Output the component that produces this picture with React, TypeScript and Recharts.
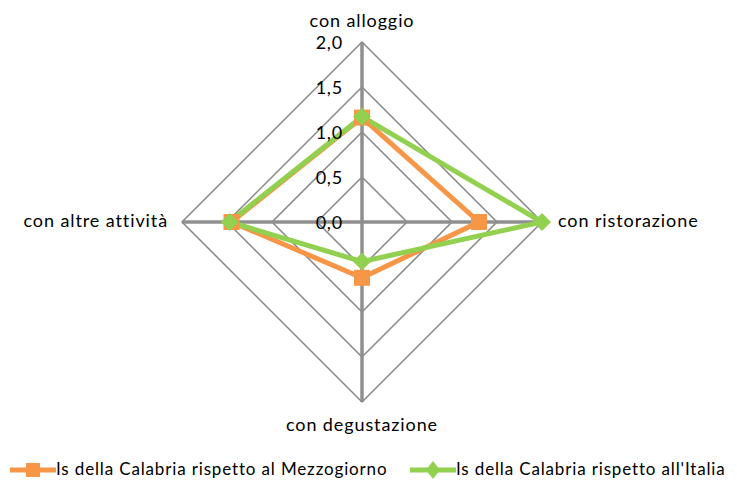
import { RadarChart, Radar, PolarGrid, PolarAngleAxis, PolarRadiusAxis, Legend } from 'recharts'

const categories = ['con alloggio', 'con ristorazione', 'con degustazione', 'con altre attività']
const mezzogiorno = [1.16, 1.3, 0.62, 1.45]
const italia = [1.17, 2.0, 0.44, 1.47]
const radiusTicks = [0, 0.5, 1, 1.5, 2]

const seriesNames = ['Is della Calabria rispetto al Mezzogiorno', "Is della Calabria rispetto all'Italia"]
const ORANGE = '#F79646'
const GREEN = '#92D050'

const data = categories.map((c, i) => ({ cat: c, mez: mezzogiorno[i], ita: italia[i] }))

const font = 'Lato, "Open Sans", sans-serif'

function SquareDot(props: any) {
  const { cx, cy } = props
  return <rect x={cx - 8} y={cy - 8} width={16} height={16} fill={ORANGE} />
}

function DiamondDot(props: any) {
  const { cx, cy } = props
  return <path d={`M${cx},${cy - 9} L${cx + 9},${cy} L${cx},${cy + 9} L${cx - 9},${cy} Z`} fill={GREEN} />
}

function RadiusTick(props: any) {
  const { x, y, payload } = props
  return (
    <text x={x - 19} y={y + 2} textAnchor="end" dominantBaseline="middle" fontSize={18} letterSpacing={0.8} fill="#000" fontFamily={font}>
      {Number(payload.value).toFixed(1).replace('.', ',')}
    </text>
  )
}

function AngleTick(props: any) {
  const { x, y, payload, cx, cy } = props
  let anchor = 'middle'
  let dx = 0
  let dy = 0
  if (Math.abs(x - cx) > 5) {
    anchor = x > cx ? 'start' : 'end'
    dx = x > cx ? 8 : -6
  } else {
    dy = y < cy ? -12 : 16
  }
  return (
    <text x={x + dx} y={y + dy} textAnchor={anchor} dominantBaseline="middle" fontSize={18} letterSpacing={0.9} fill="#000" fontFamily={font}>
      {payload.value}
    </text>
  )
}

function LegendContent() {
  const items = [
    { name: seriesNames[0], color: ORANGE, x: 10, kind: 'square' },
    { name: seriesNames[1], color: GREEN, x: 410, kind: 'diamond' },
  ]
  return (
    <svg width={737} height={30} style={{ display: 'block' }}>
      {items.map((it) => (
        <g key={it.name}>
          <line x1={it.x} y1={15} x2={it.x + 46} y2={15} stroke={it.color} strokeWidth={5} />
          {it.kind === 'square' ? (
            <rect x={it.x + 16} y={8} width={14} height={14} fill={it.color} />
          ) : (
            <path d={`M${it.x + 23},6 L${it.x + 30},15 L${it.x + 23},24 L${it.x + 16},15 Z`} fill={it.color} />
          )}
          <text x={it.x + 46} y={16} dominantBaseline="middle" fontSize={17} letterSpacing={0.85} fill="#000" fontFamily={font}>
            {it.name}
          </text>
        </g>
      ))}
    </svg>
  )
}

export default function App() {
  return (
    <div style={{ position: 'absolute', left: 0, top: 0, width: 737, height: 485, background: '#fff' }}>
      <RadarChart
        width={737}
        height={485}
        data={data}
        cx={362}
        cy={222}
        outerRadius={180}
        margin={{ top: 0, right: 0, bottom: 0, left: 0 }}
      >
        <PolarGrid gridType="polygon" radialLines={false} stroke="#868686" strokeWidth={1.5} />
        <PolarGrid gridType="polygon" polarRadius={[0]} stroke="#8f8f8f" strokeWidth={3.5} />
        <PolarAngleAxis dataKey="cat" tick={<AngleTick cx={362} cy={222} />} axisLine={false} tickLine={false} />
        <PolarRadiusAxis
          angle={90}
          domain={[0, 2]}
          ticks={radiusTicks as any}
          tickCount={5}
          tick={<RadiusTick />}
          axisLine={false}
          tickLine={false}
        />
        <Radar
          name={seriesNames[0]}
          dataKey="mez"
          stroke={ORANGE}
          strokeWidth={5}
          fill="none"
          fillOpacity={0}
          dot={<SquareDot />}
          isAnimationActive={false}
        />
        <Radar
          name={seriesNames[1]}
          dataKey="ita"
          stroke={GREEN}
          strokeWidth={5}
          fill="none"
          fillOpacity={0}
          dot={<DiamondDot />}
          isAnimationActive={false}
        />
        <Legend verticalAlign="bottom" content={<LegendContent />} wrapperStyle={{ bottom: 0, left: 0 }} />
      </RadarChart>
    </div>
  )
}
